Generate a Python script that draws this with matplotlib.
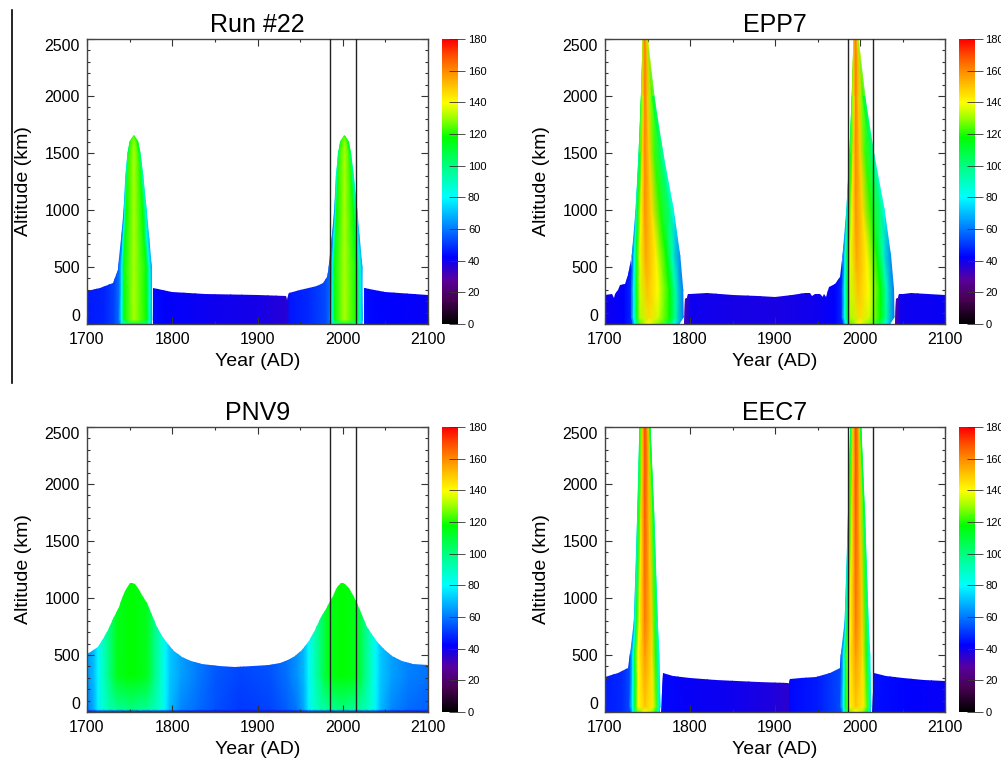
import numpy as np
import matplotlib
matplotlib.use('Agg')
import matplotlib.pyplot as plt
from matplotlib.colors import LinearSegmentedColormap, Normalize
from matplotlib.patches import Polygon
from matplotlib.lines import Line2D

plt.rcParams['font.family'] = ['Liberation Sans', 'DejaVu Sans']

# colour table (value 0..180 -> colour)
cmap_val = [0, 15, 28, 42, 60, 80, 100, 118, 130, 140, 150, 160, 170, 180]
cmap_rgb = [(0, 0, 0), (0.28, 0, 0.32), (0.35, 0, 0.62), (0, 0, 1), (0, 0.48, 1),
            (0, 1, 1), (0, 1, 0.5), (0, 1, 0), (0.6, 1, 0), (1, 1, 0),
            (1, 0.78, 0), (1, 0.55, 0), (1, 0.3, 0), (1, 0, 0)]
cbar_ticks = [0, 20, 40, 60, 80, 100, 120, 140, 160, 180]
obs_years = [1985.5, 2015.5]
alt_ticks = [0, 500, 1000, 1500, 2000, 2500]
year_ticks = [1700, 1800, 1900, 2000, 2100]

# ---------------- Run #22 ----------------
run22_band_year = [1700, 1715, 1730, 1734, 1737, 1742, 1777, 1777.6, 1800, 1838, 1900, 1934, 1935,
                   1936, 1937.5, 1950, 1970, 1977, 1981, 1984, 1990, 2024.5, 2025.5, 2050, 2100]
run22_band_alt = [290, 318, 362, 430, 500, 0, 0, 313, 285, 262, 254, 250, 205,
                  248, 275, 298, 330, 357, 416, 500, 0, 0, 316, 285, 258]
run22_grid_year = [1700, 1720, 1732, 1738, 1776, 1790, 1850, 1900, 1934, 1938, 1960, 1980, 1986,
                   2024, 2030, 2060, 2100]
run22_grid_val = [46, 47, 52, 60, 44, 42, 40, 39, 36, 45, 48, 53, 60, 45, 43, 42, 41]
run22_grid_alt = [0, 700]
run22_centres = [1755, 2002]
run22_plume_alt = [0, 40, 500, 750, 1000, 1300, 1500, 1600, 1650]
run22_plume_dx = [[-17, -14.5, -11, 0, 15, 18.5, 20.5],
                  [-18.5, -14.5, -11.5, 0, 15, 18.5, 21],
                  [-18, -14, -12, 0, 14.5, 18.5, 20.5],
                  [-14.5, -12.5, -10.5, 0, 12, 15.5, 17.5],
                  [-11.5, -10.5, -9, 0, 10.5, 13.5, 14.5],
                  [-9.5, -8.8, -7.5, 0, 7.5, 9.5, 10.5],
                  [-7, -6.5, -5.5, 0, 5, 6.5, 7.2],
                  [-4.5, -4, -3.5, 0, 3, 4, 4.5],
                  [0, 0, 0, 0, 0, 0, 0]]
run22_plume_val = [[58, 75, 95, 112, 98, 80, 68],
                   [56, 80, 116, 132, 118, 85, 68],
                   [55, 78, 116, 132, 116, 82, 66],
                   [58, 82, 116, 132, 116, 84, 68],
                   [65, 88, 118, 132, 118, 92, 76],
                   [78, 95, 120, 132, 120, 100, 88],
                   [90, 105, 122, 132, 123, 110, 100],
                   [110, 115, 122, 130, 124, 118, 112],
                   [125, 125, 125, 125, 125, 125, 125]]

# ---------------- EPP7 ----------------
epp7_band_year = [1700, 1708, 1710, 1712, 1715, 1718, 1724, 1727, 1731, 1738,
                  1793, 1794.5, 1797, 1798, 1800, 1820, 1850, 1880, 1900, 1920,
                  1935, 1941, 1944, 1947, 1953, 1956, 1958, 1960, 1963, 1970,
                  1976, 1979, 1986, 2041, 2042.5, 2045, 2046, 2050, 2060, 2100]
epp7_band_alt = [252, 266, 228, 266, 300, 342, 350, 430, 560, 0,
                 0, 215, 225, 262, 266, 272, 258, 246, 237, 258,
                 275, 275, 245, 265, 265, 240, 262, 238, 325, 350,
                 415, 560, 0, 0, 215, 225, 262, 266, 272, 252]
epp7_grid_year = [1700, 1722, 1731, 1738, 1792, 1794.5, 1796.5, 1800, 1850, 1900, 1950, 1970,
                  1979, 1986, 2040, 2042.5, 2044.5, 2048, 2100]
epp7_grid_val = [40, 42, 48, 50, 42, 30, 34, 40, 39, 38, 40, 42, 48, 50, 42, 30, 34, 40, 41]
epp7_grid_alt = [0, 700]
epp7_centres = [1747, 1995]
epp7_plume_alt = [0, 60, 300, 600, 1000, 1500, 2000, 2500, 2560]
epp7_plume_dx = [[-14, -12, -9.5, -5.5, 4, 15, 28, 35, 40],
                 [-16, -13, -10, -6, 5, 15.5, 29, 36, 45],
                 [-16, -13, -10, -6, 3, 15, 29, 36, 44.5],
                 [-15, -12.5, -10, -6, 1, 13, 25, 32, 41],
                 [-10.5, -10, -8.5, -4.5, 0, 8, 18, 29, 33.5],
                 [-7, -6.5, -5.5, -3, 0, 5, 11, 18, 21],
                 [-4.2, -4, -3, -1.5, 0, 3, 6, 9, 10.5],
                 [-2.2, -2, -1.5, -0.8, 0.2, 1.2, 2, 2.6, 3],
                 [0.3, 0.3, 0.3, 0.3, 0.3, 0.3, 0.3, 0.3, 0.3]]
epp7_plume_val = [[62, 78, 100, 125, 140, 128, 108, 85, 68],
                  [58, 80, 112, 132, 146, 135, 118, 95, 60],
                  [56, 80, 114, 135, 151, 140, 118, 92, 60],
                  [55, 80, 114, 138, 156, 142, 118, 92, 62],
                  [75, 95, 115, 142, 159, 146, 120, 100, 82],
                  [95, 105, 120, 146, 161, 148, 122, 105, 92],
                  [120, 125, 135, 150, 162, 150, 130, 115, 108],
                  [145, 150, 155, 160, 162, 158, 150, 145, 140],
                  [160, 160, 160, 160, 160, 160, 160, 160, 160]]

# ---------------- PNV9 ----------------
pnv9_band_year = [1700, 1706, 1713, 1719, 1725, 1731, 1737, 1741, 1745, 1748, 1751, 1753, 1756,
                  1760, 1765, 1770, 1776, 1782, 1788, 1794, 1802, 1811, 1822, 1835, 1855,
                  1874, 1895, 1913, 1926, 1936, 1944, 1952, 1960, 1967, 1974, 1980, 1984,
                  1988, 1992, 1995, 1998, 2000, 2003, 2007, 2012, 2017, 2023, 2029, 2035,
                  2041, 2049, 2058, 2069, 2082, 2100]
pnv9_band_alt = [505, 535, 573, 640, 719, 820, 924, 1000, 1065, 1105, 1130, 1135, 1125,
                 1090, 1025, 953, 850, 748, 665, 602, 535, 480, 443, 418, 402,
                 397, 400, 410, 428, 456, 492, 544, 620, 719, 830, 905, 960,
                 1020, 1075, 1108, 1130, 1135, 1125, 1092, 1030, 953, 850, 748, 665,
                 602, 540, 487, 450, 421, 410]
pnv9_grid_year = [1700, 1708, 1713, 1718, 1726, 1735, 1752, 1770, 1779, 1787, 1792, 1797, 1810,
                  1830, 1850, 1880, 1915, 1935, 1947, 1955, 1960, 1965, 1973, 1982, 1999,
                  2017, 2026, 2034, 2039, 2044, 2057, 2077, 2100]
pnv9_grid_alt = [0, 25, 320, 1200]
pnv9_val_0 = [38, 38, 39, 40, 41, 42, 42, 42, 41, 40, 39, 38, 38,
              37, 37, 36, 36, 37, 38, 38, 39, 40, 41, 42, 42,
              42, 41, 40, 39, 38, 38, 37, 37]
pnv9_val_25 = [60, 68, 78, 86, 92, 96, 100, 96, 92, 86, 78, 70, 62,
               58, 54, 50, 52, 56, 60, 68, 78, 86, 92, 96, 100,
               96, 92, 86, 78, 70, 62, 58, 56]
pnv9_val_320 = [64, 70, 79, 88, 100, 114, 118, 114, 100, 88, 79, 72, 66,
                60, 55, 52, 54, 59, 64, 70, 79, 88, 100, 114, 118,
                114, 100, 88, 79, 72, 66, 61, 59]
pnv9_val_top = [64, 70, 79, 88, 100, 114, 118, 114, 100, 88, 79, 72, 66,
                62, 58, 56, 57, 60, 64, 70, 79, 88, 100, 114, 118,
                114, 100, 88, 79, 72, 66, 62, 60]

# ---------------- EEC7 ----------------
eec7_band_year = [1700, 1715, 1727, 1729.5, 1736, 1766, 1767.7, 1780, 1800, 1830, 1855, 1880,
                  1915, 1916.5, 1917.5, 1930, 1948, 1965, 1976.5, 1978, 1984, 2014, 2016,
                  2030, 2050, 2075, 2100]
eec7_band_alt = [310, 345, 383, 515, 0, 0, 339, 315, 295, 282, 272, 262,
                 251, 250, 286, 295, 310, 345, 383, 515, 0, 0, 339,
                 315, 295, 285, 272]
eec7_grid_year = [1700, 1720, 1729, 1765, 1768, 1800, 1850, 1900, 1916, 1918, 1950, 1977,
                  2013, 2016, 2060, 2100]
eec7_grid_val = [46, 48, 53, 45, 43, 41, 40, 37, 35, 43, 46, 53, 45, 44, 42, 41]
eec7_grid_alt = [0, 700]
eec7_centres = [1747, 1995]
eec7_plume_alt = [0, 50, 500, 800, 1700, 2500]
eec7_plume_dx = [[-16, -14, -12, -8.5, 0, 8, 13, 15.5, 17],
                 [-18, -14.5, -11.5, -8, 0, 9, 13.5, 16.5, 17.7],
                 [-17, -14, -12, -8, 0, 8, 12.5, 15.5, 16.5],
                 [-12.5, -11.5, -10, -6.5, 0, 7.5, 11.5, 13.8, 14.5],
                 [-8.7, -8.2, -7, -4.5, 0, 5, 8.5, 10, 10.6],
                 [-6, -5.6, -4.8, -3, 0, 3.5, 5, 5.7, 6]]
eec7_plume_val = [[62, 78, 100, 125, 140, 130, 108, 85, 70],
                  [58, 80, 115, 140, 150, 142, 125, 90, 72],
                  [56, 80, 112, 140, 158, 145, 120, 92, 80],
                  [70, 85, 112, 140, 163, 148, 122, 100, 90],
                  [90, 100, 120, 145, 168, 150, 125, 110, 100],
                  [100, 110, 125, 150, 170, 155, 130, 115, 108]]

cmap = LinearSegmentedColormap.from_list(
    'idl39', [(v / 180.0, c) for v, c in zip(cmap_val, cmap_rgb)], N=512)
norm = Normalize(vmin=0, vmax=180)


def draw_colorbar(cax):
    grad = np.linspace(0, 180, 361)[:, None]
    cax.imshow(grad, aspect='auto', origin='lower', extent=[0, 1, 0, 180],
               cmap=cmap, norm=norm, interpolation='bilinear')
    cax.set_xlim(0, 1)
    cax.set_ylim(0, 180)
    cax.set_xticks([])
    cax.yaxis.tick_right()
    cax.set_yticks(cbar_ticks)
    cax.minorticks_off()
    cax.tick_params(axis='y', which='major', labelsize=8, direction='inout', length=11,
                    width=0.6, color='#333333', pad=2, left=False, right=True)
    for s in cax.spines.values():
        s.set_visible(False)


def draw_panel(ax, cax, title, band_year, band_alt, grid_year, grid_alt, grid_val,
               centres=None, plume_alt=None, plume_dx=None, plume_val=None):
    outline = [(1700, 0)] + list(zip(band_year, band_alt)) + [(2100, 0)]
    clip = Polygon(outline, closed=True, facecolor='none', edgecolor='none',
                   transform=ax.transData)
    ax.add_patch(clip)
    mesh = ax.pcolormesh(grid_year, grid_alt, np.array(grid_val, float),
                         shading='gouraud', cmap=cmap, norm=norm, zorder=1)
    mesh.set_clip_path(clip)
    if centres:
        for c in centres:
            X = c + np.array(plume_dx, float)
            Y = np.repeat(np.array(plume_alt, float)[:, None], X.shape[1], axis=1)
            ax.pcolormesh(X, Y, np.array(plume_val, float), shading='gouraud',
                          cmap=cmap, norm=norm, zorder=2)
    for yr in obs_years:
        ax.axvline(yr, color='#222222', lw=1.0, zorder=3)

    ax.set_xlim(1700, 2100)
    ax.set_ylim(0, 2500)
    ax.set_xticks(year_ticks)
    ax.set_xticks(np.arange(1750, 2100, 100), minor=True)
    ax.set_yticks(alt_ticks)
    ax.set_yticks(np.arange(100, 2500, 100), minor=True)
    ax.tick_params(which='both', direction='in', top=True, right=True,
                   color='#333333', width=0.8)
    ax.tick_params(which='major', length=5, labelsize=11.5)
    ax.tick_params(which='minor', length=2.5)
    ax.tick_params(axis='x', pad=6)
    ax.tick_params(axis='y', pad=5)
    ticks = ax.yaxis.get_major_ticks()
    ticks[0].label1.set_va('bottom')
    ticks[-1].label1.set_va('top')
    for s in ax.spines.values():
        s.set_color('#444444')
        s.set_linewidth(1.0)
    ax.set_title(title, fontsize=18, pad=5)
    ax.set_xlabel('Year (AD)', fontsize=14, labelpad=4)
    ax.set_ylabel('Altitude (km)', fontsize=14, labelpad=9)

    draw_colorbar(cax)


fig = plt.figure(figsize=(10.01, 7.59), dpi=100)
W, H = 1001.0, 759.0
ax1 = fig.add_axes([87 / W, 1 - 324 / H, 341 / W, 285 / H])
cb1 = fig.add_axes([442 / W, 1 - 324 / H, 15.5 / W, 285 / H])
ax2 = fig.add_axes([605 / W, 1 - 324 / H, 340 / W, 285 / H])
cb2 = fig.add_axes([959 / W, 1 - 324 / H, 16 / W, 285 / H])
ax3 = fig.add_axes([87 / W, 1 - 712 / H, 341 / W, 285 / H])
cb3 = fig.add_axes([442 / W, 1 - 712 / H, 15.5 / W, 285 / H])
ax4 = fig.add_axes([605 / W, 1 - 712 / H, 340 / W, 285 / H])
cb4 = fig.add_axes([959 / W, 1 - 712 / H, 16 / W, 285 / H])

draw_panel(ax1, cb1, 'Run #22', run22_band_year, run22_band_alt, run22_grid_year,
           run22_grid_alt, [run22_grid_val, run22_grid_val],
           run22_centres, run22_plume_alt, run22_plume_dx, run22_plume_val)
draw_panel(ax2, cb2, 'EPP7', epp7_band_year, epp7_band_alt, epp7_grid_year,
           epp7_grid_alt, [epp7_grid_val, epp7_grid_val],
           epp7_centres, epp7_plume_alt, epp7_plume_dx, epp7_plume_val)
draw_panel(ax3, cb3, 'PNV9', pnv9_band_year, pnv9_band_alt, pnv9_grid_year,
           pnv9_grid_alt, [pnv9_val_0, pnv9_val_25, pnv9_val_320, pnv9_val_top])
draw_panel(ax4, cb4, 'EEC7', eec7_band_year, eec7_band_alt, eec7_grid_year,
           eec7_grid_alt, [eec7_grid_val, eec7_grid_val],
           eec7_centres, eec7_plume_alt, eec7_plume_dx, eec7_plume_val)

# stray frame line on the left edge of the original figure
fig.add_artist(Line2D([12 / W, 12 / W], [1 - 10 / H, 1 - 383 / H],
                      transform=fig.transFigure, color='black', lw=1.2))

fig.savefig('out.png', dpi=100)
